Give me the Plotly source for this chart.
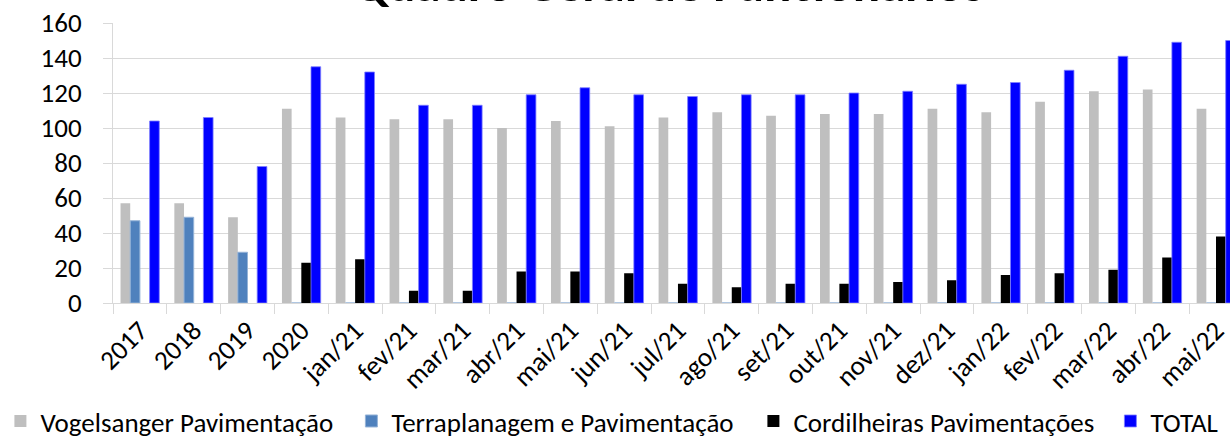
import plotly.graph_objects as go

categories = ["2017", "2018", "2019", "2020", "jan/21", "fev/21", "mar/21", "abr/21",
              "mai/21", "jun/21", "jul/21", "ago/21", "set/21", "out/21", "nov/21",
              "dez/21", "jan/22", "fev/22", "mar/22", "abr/22", "mai/22"]

vogelsanger = [57, 57, 49, 111, 106, 105, 105, 100, 104, 101, 106, 109, 107, 108, 108,
               111, 109, 115, 121, 122, 111]
terraplanagem = [47, 49, 29, 0, 0, 0, 0, 0, 0, 0, 0, 0, 0, 0, 0, 0, 0, 0, 0, 0, 0]
cordilheiras = [0, 0, 0, 23, 25, 7, 7, 18, 18, 17, 11, 9, 11, 11, 12, 13, 16, 17, 19, 26, 38]
total = [104, 106, 78, 135, 132, 113, 113, 119, 123, 119, 118, 119, 119, 120, 121,
         125, 126, 133, 141, 149, 150]

FONT = "Carlito, Calibri, Lato, sans-serif"
FS = 27
H = 449          # figure is slightly taller than the 437 px window; bottom strip is cropped
PLOT_TOP = 23
PLOT_BOTTOM = 302.7
PLOT_H = PLOT_BOTTOM - PLOT_TOP

fig = go.Figure()
fig.add_trace(go.Bar(name="Vogelsanger Pavimentação", x=categories, y=vogelsanger,
                     legendwidth=306,
                     marker=dict(color="#BFBFBF", line=dict(width=0))))
fig.add_trace(go.Bar(name="Terraplanagem e Pavimentação", x=categories, y=terraplanagem,
                     legendwidth=357,
                     marker=dict(color="#4F81BD", line=dict(width=1, color="#95B3D7"))))
fig.add_trace(go.Bar(name="Cordilheiras Pavimentações", x=categories, y=cordilheiras,
                     legendwidth=312,
                     marker=dict(color="#000000", line=dict(width=0))))
fig.add_trace(go.Bar(name="TOTAL", x=categories, y=total,
                     legendwidth=66,
                     marker=dict(color="#0000FF", line=dict(width=0.8, color="#7F7FFF"))))

fig.update_layout(
    width=1230, height=H,
    margin=dict(l=109, r=0, t=PLOT_TOP, b=H - PLOT_BOTTOM),
    paper_bgcolor="white", plot_bgcolor="white",
    barmode="group", bargap=0.28, bargroupgap=0,
    font=dict(family=FONT, size=FS, color="black"),
    showlegend=True,
    legend=dict(orientation="h", xref="paper", x=(-4 - 109) / 1121, xanchor="left",
                yref="paper", y=(PLOT_BOTTOM - 421) / PLOT_H, yanchor="middle",
                borderwidth=0, bgcolor="rgba(0,0,0,0)",
                font=dict(size=FS, family=FONT), traceorder="normal",
                itemwidth=30),
    annotations=[dict(text="<b>Quadro Geral de Funcionários</b>", xref="paper", yref="paper",
                      x=(666 - 109) / 1121, y=1.0 + 39 / PLOT_H, xanchor="center", yanchor="middle",
                      showarrow=False, font=dict(size=51, family=FONT, color="black"))],
)

fig.update_xaxes(type="category", range=[-0.5, 20.26], tickangle=-45, automargin=False,
                 showline=True, linecolor="#D9D9D9", linewidth=1,
                 ticks="outside", tickson="boundaries", ticklen=10, tickcolor="#D9D9D9",
                 showgrid=False, tickfont=dict(size=FS, family=FONT))
fig.update_yaxes(range=[0, 160], dtick=20, showgrid=True, gridcolor="#D9D9D9", gridwidth=1,
                 showline=True, linecolor="#D9D9D9", linewidth=1, automargin=False,
                 ticks="outside", ticklen=9, tickcolor="#D9D9D9", ticklabelstandoff=16,
                 zeroline=False, tickfont=dict(size=FS, family=FONT))

fig.write_html("out.html", config={"displayModeBar": False},
               post_script="document.body.style.margin='0';document.body.style.overflow='hidden';")
